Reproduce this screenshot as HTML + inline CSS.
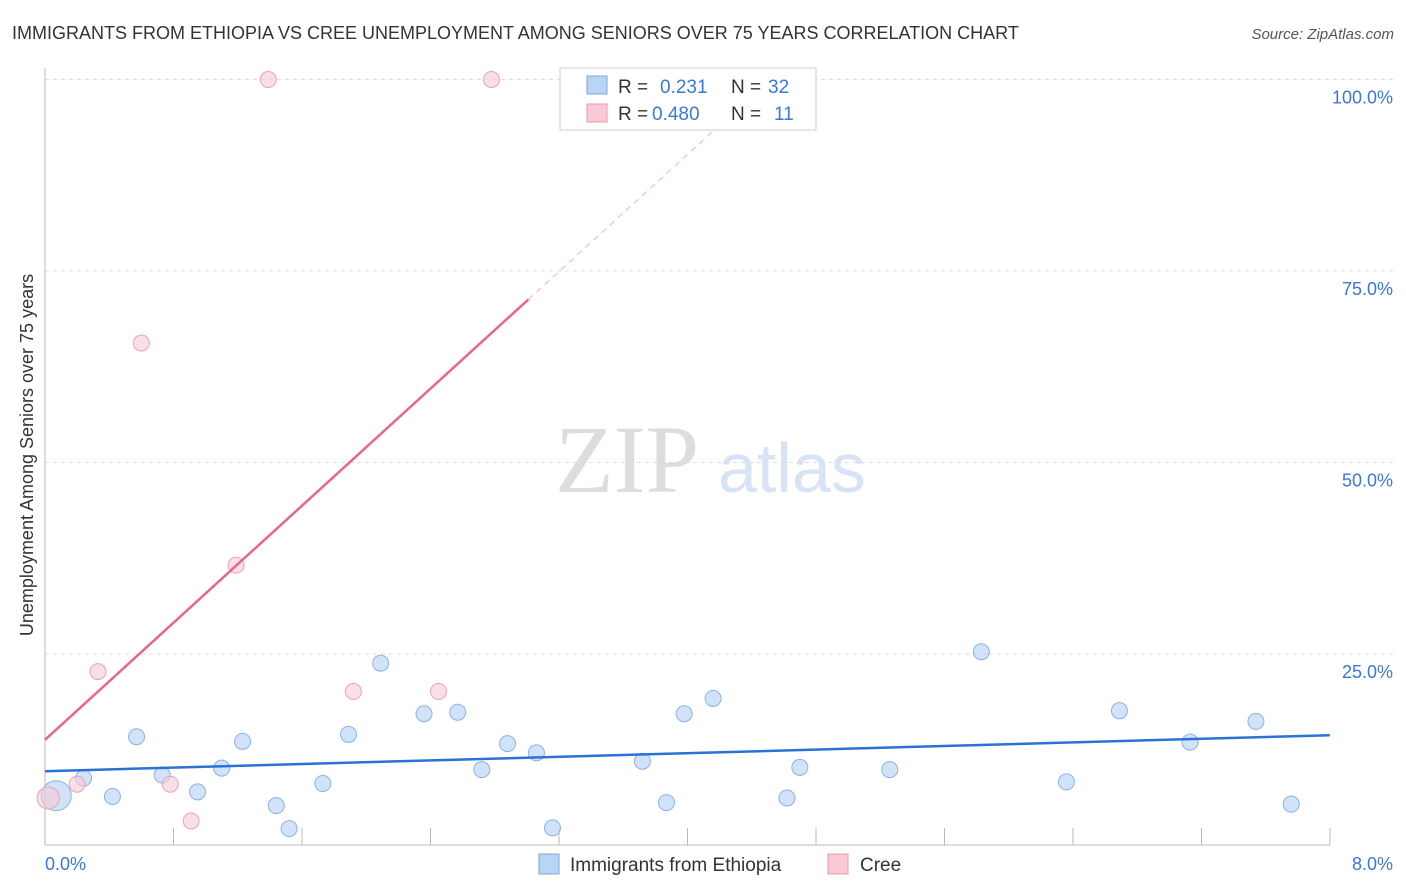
<!DOCTYPE html>
<html><head><meta charset="utf-8"><style>
body{margin:0;background:#fff;font-family:"Liberation Sans",sans-serif;}
svg{display:block}
</style></head><body>
<svg id="chart" width="1406" height="892">
<text x="12" y="39" font-size="18" fill="#333">IMMIGRANTS FROM ETHIOPIA VS CREE UNEMPLOYMENT AMONG SENIORS OVER 75 YEARS CORRELATION CHART</text>
<text x="1394" y="39" font-size="15" fill="#555" font-style="italic" text-anchor="end">Source: ZipAtlas.com</text>
<text x="33" y="455" font-size="18" fill="#333" text-anchor="middle" transform="rotate(-90 33 455)">Unemployment Among Seniors over 75 years</text>
<text x="555" y="492" font-size="96" fill="#ddd" font-family="Liberation Serif,serif">ZIP</text>
<text x="718" y="492" font-size="70" fill="#d6e4f5">atlas</text>
<g id="grid"></g><g id="axes"></g><g id="marks"></g>
<g>
<rect x="560" y="68" width="256" height="62" fill="#fff" stroke="#ccc"/>
<rect x="587" y="76" width="20" height="18" fill="#b9d4f5" stroke="#7aa6e0"/>
<text x="618" y="93" font-size="19" fill="#333">R = </text><text x="660" y="93" font-size="19" fill="#3a78d6">0.231</text>
<text x="731" y="93" font-size="19" fill="#333">N = </text><text x="768" y="93" font-size="19" fill="#3a78d6">32</text>
<rect x="587" y="104" width="20" height="18" fill="#f9c9d6" stroke="#e99ab0"/>
<text x="618" y="120" font-size="19" fill="#333">R = </text><text x="652" y="120" font-size="19" fill="#3a78d6">0.480</text>
<text x="731" y="120" font-size="19" fill="#333">N = </text><text x="774" y="120" font-size="19" fill="#3a78d6">11</text>
</g>
<g>
<rect x="539" y="854" width="20" height="20" fill="#b9d4f5" stroke="#7aa6e0"/>
<text x="570" y="871" font-size="19" fill="#333">Immigrants from Ethiopia</text>
<rect x="828" y="854" width="20" height="20" fill="#f9c9d6" stroke="#e99ab0"/>
<text x="860" y="871" font-size="19" fill="#333">Cree</text>
</g>
</svg>
<script>
const blueX=[0.07,0.24,0.42,0.57,0.73,0.95,1.10,1.23,1.44,1.52,1.73,1.89,2.09,2.36,2.57,2.72,2.88,3.06,3.16,3.72,3.87,3.98,4.16,4.62,4.70,5.26,5.83,6.36,6.69,7.13,7.54,7.76];
const blueY=[6.5,8.8,6.4,14.2,9.2,7.0,10.1,13.6,5.2,2.2,8.1,14.5,23.8,17.2,17.4,9.9,13.3,12.1,2.3,11.0,5.6,17.2,19.2,6.2,10.2,9.9,25.3,8.3,17.6,13.5,16.2,5.4];
const pinkX=[0.02,0.20,0.33,0.60,0.78,0.91,1.19,1.39,1.92,2.45,2.78];
const pinkY=[6.2,8.0,22.7,65.6,8.0,3.2,36.6,100,20.1,20.1,100];
const yTicks=[25,50,75,100];
const xTickLabels=["0.0%","8.0%"];
const blueLine=[9.7,14.4], pinkLine=[13.8,19.1];
const X=v=>45+v*160.6, Y=v=>845.5-v*7.66;
const NS="http://www.w3.org/2000/svg";
function mk(p,t,a){const e=document.createElementNS(NS,t);for(const k in a)e.setAttribute(k,a[k]);p.appendChild(e);return e;}
const grid=document.getElementById('grid'),axes=document.getElementById('axes'),marks=document.getElementById('marks');
yTicks.forEach(t=>{const l=mk(grid,'line',{x1:45,x2:1394,y1:Y(t),y2:Y(t),stroke:'#ddd','stroke-dasharray':'4,4'});


const tx=mk(axes,'text',{x:1393,y:Y(t)+24,'font-size':18,fill:'#3a78d6','text-anchor':'end'});tx.textContent=t.toFixed(1)+'%';

});
mk(axes,'line',{x1:45,x2:45,y1:68,y2:845,stroke:'#bbb'});
mk(axes,'line',{x1:45,x2:1330,y1:845,y2:845,stroke:'#bbb'});
for(let i=1;i<=10;i++){mk(axes,'line',{x1:45+i*128.5,x2:45+i*128.5,y1:828,y2:845,stroke:'#bbb'});}
const t0=mk(axes,'text',{x:45,y:870,'font-size':18,fill:'#3a78d6'});t0.textContent=xTickLabels[0];

const t1=mk(axes,'text',{x:1393,y:870,'font-size':18,fill:'#3a78d6','text-anchor':'end'});t1.textContent=xTickLabels[1];

blueX.forEach((x,i)=>{const c=mk(marks,'circle',{cx:X(x),cy:Y(blueY[i]),r:i==0?15:8,fill:'rgba(185,212,245,0.65)',stroke:'#8ab2e6'});

});
pinkX.forEach((x,i)=>{const c=mk(marks,'circle',{cx:X(x),cy:Y(pinkY[i]),r:i==0?11:8,fill:'rgba(249,201,214,0.6)',stroke:'#eba2b6'});

});
const bl=mk(marks,'line',{x1:X(0),y1:Y(blueLine[0]),x2:X(8),y2:Y(blueLine[1]),stroke:'#2a72d6','stroke-width':2.5});

const pe=3.01;
const pl=mk(marks,'line',{x1:X(0),y1:Y(pinkLine[0]),x2:X(pe),y2:Y(pinkLine[0]+pinkLine[1]*pe),stroke:'#e8668e','stroke-width':2.5});

const xe=(100-pinkLine[0])/pinkLine[1];
const pd=mk(marks,'line',{x1:X(pe),y1:Y(pinkLine[0]+pinkLine[1]*pe),x2:X(xe),y2:Y(100),stroke:'#f0b0c4','stroke-width':1,'stroke-dasharray':'6,5'});

</script>
</body></html>
